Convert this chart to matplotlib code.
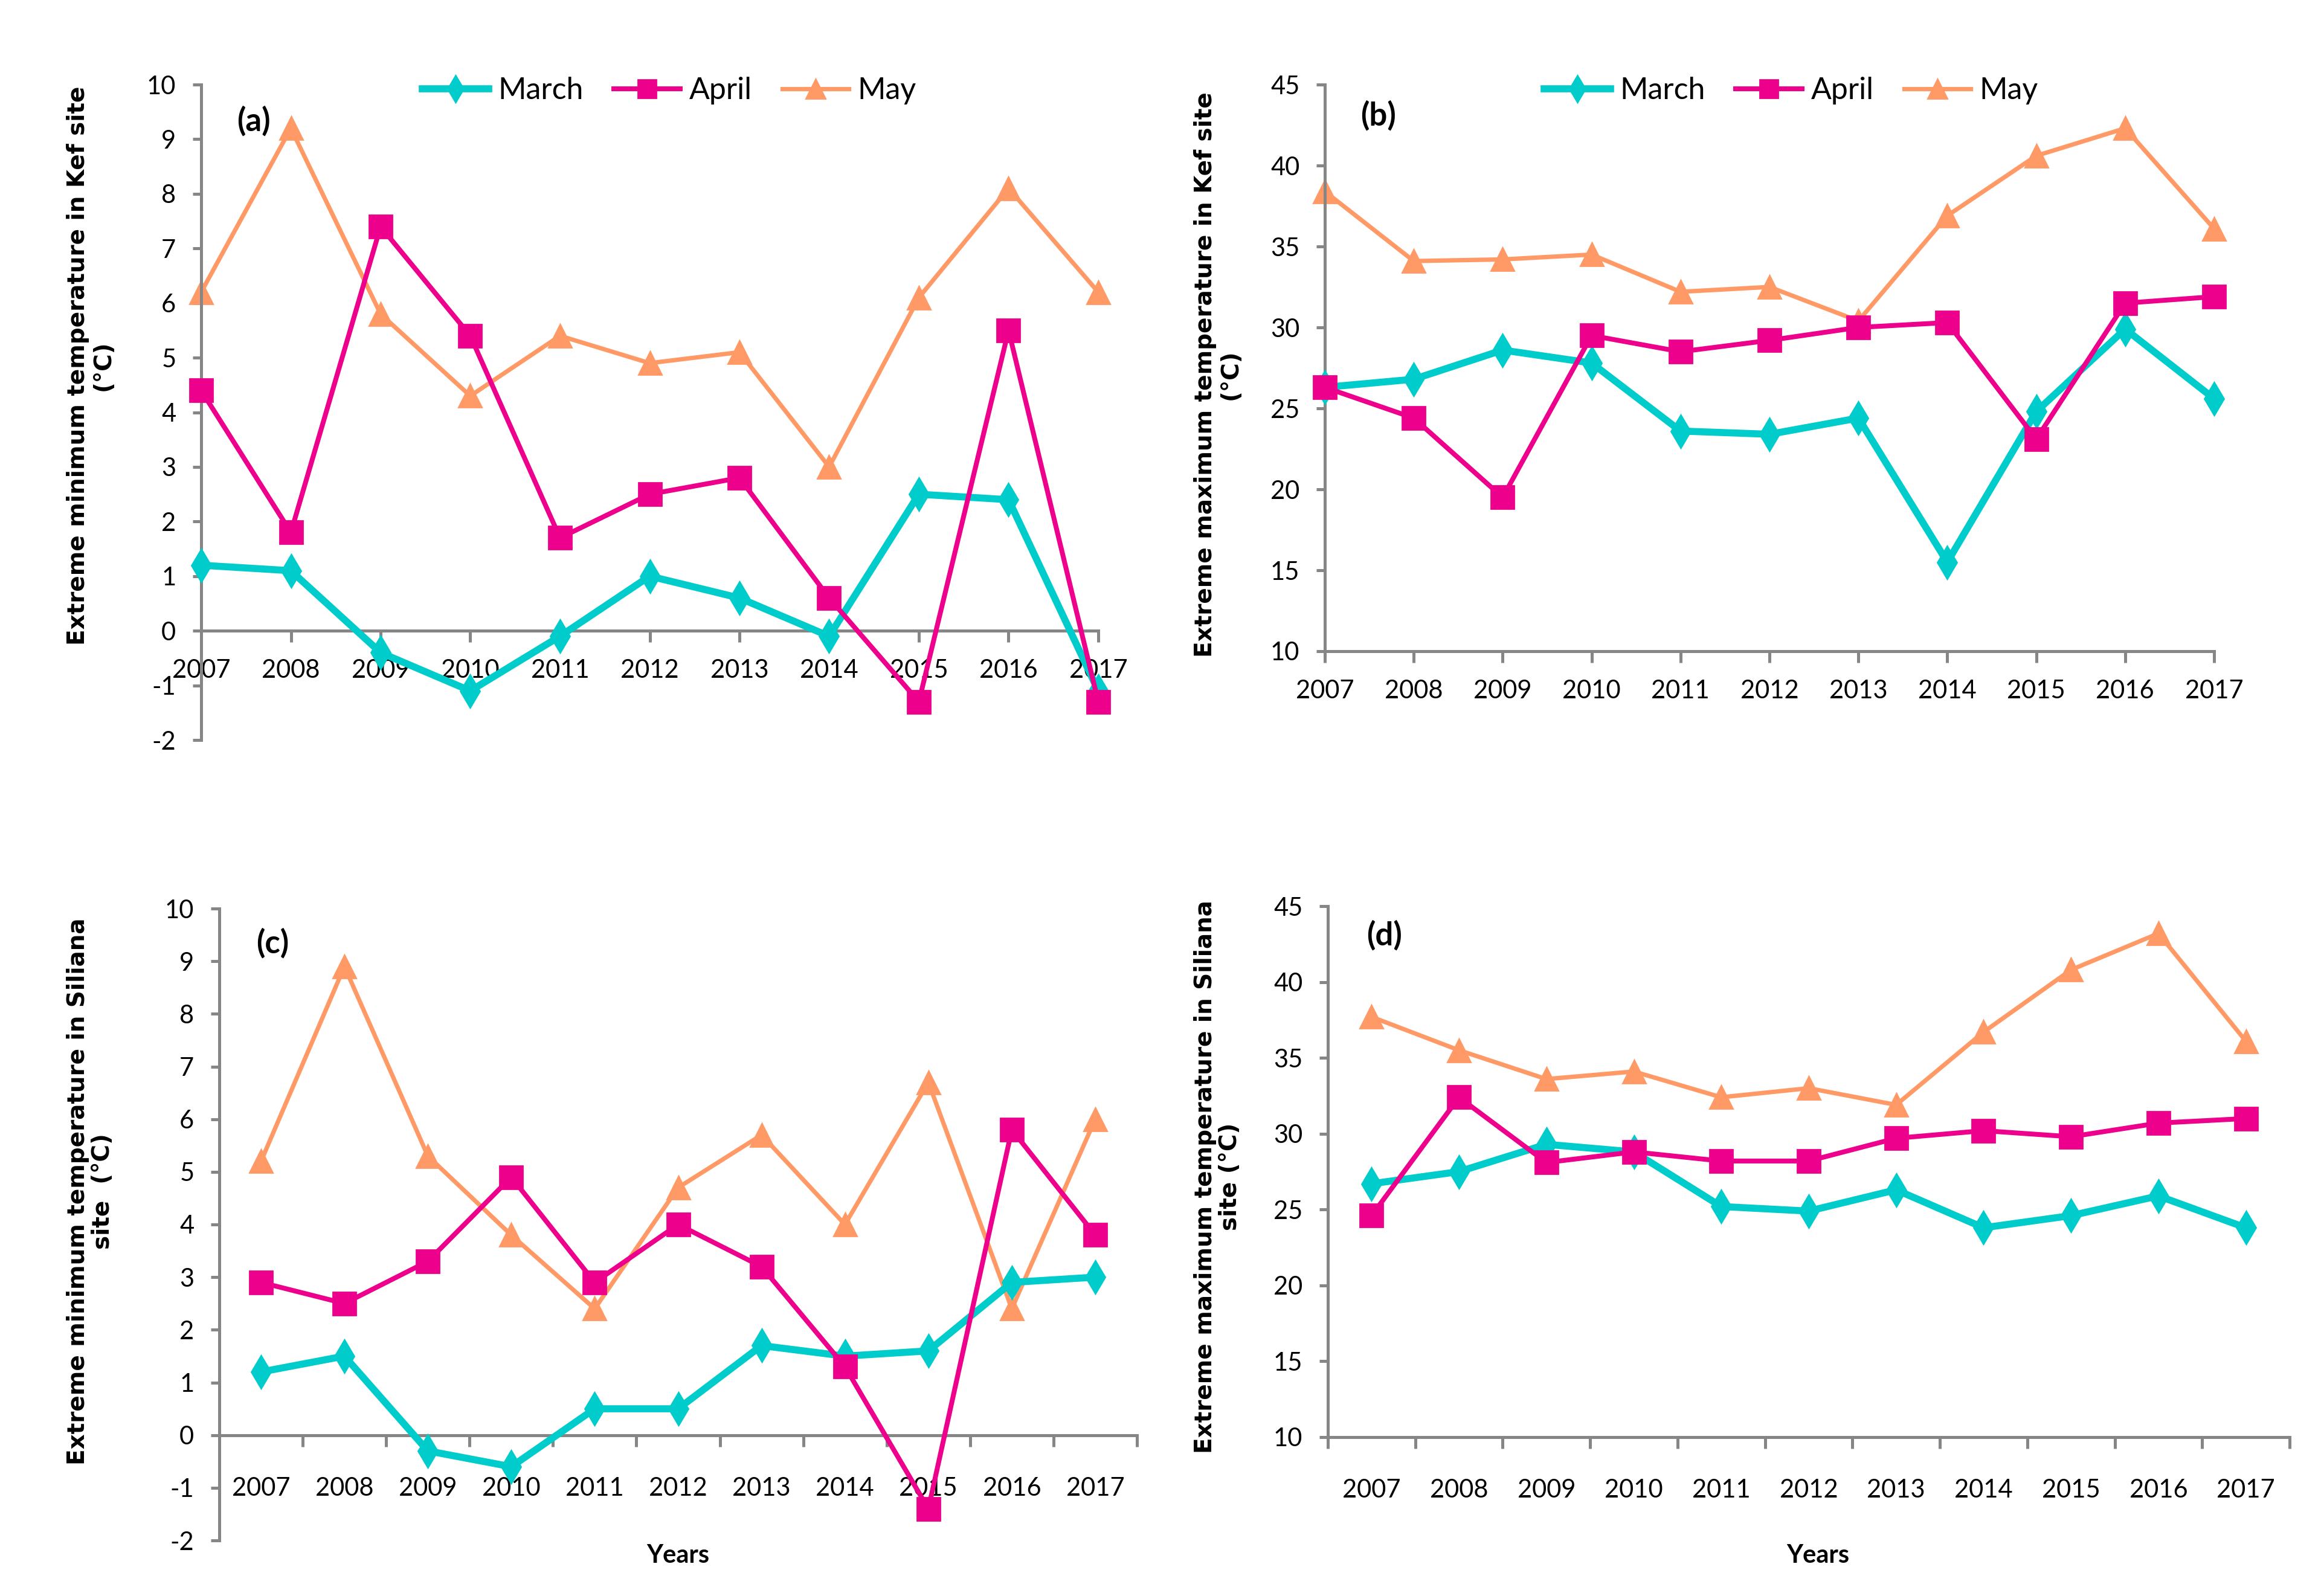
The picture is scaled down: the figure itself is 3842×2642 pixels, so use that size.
import numpy as np
import matplotlib
matplotlib.use('Agg')
import matplotlib.pyplot as plt
from matplotlib.ticker import FixedLocator

years = ['2007', '2008', '2009', '2010', '2011', '2012', '2013', '2014', '2015', '2016', '2017']
months = ['March', 'April', 'May']

# (a) Kef, extreme minimum
kef_min_march = [1.2, 1.1, -0.4, -1.1, -0.1, 1.0, 0.6, -0.1, 2.5, 2.4, -1.1]
kef_min_april = [4.4, 1.8, 7.4, 5.4, 1.7, 2.5, 2.8, 0.6, -1.3, 5.5, -1.3]
kef_min_may = [6.2, 9.2, 5.8, 4.3, 5.4, 4.9, 5.1, 3.0, 6.1, 8.1, 6.2]
# (b) Kef, extreme maximum
kef_max_march = [26.3, 26.8, 28.6, 27.8, 23.6, 23.4, 24.4, 15.5, 24.8, 29.9, 25.6]
kef_max_april = [26.3, 24.4, 19.5, 29.5, 28.5, 29.2, 30.0, 30.3, 23.1, 31.5, 31.9]
kef_max_may = [38.4, 34.1, 34.2, 34.5, 32.2, 32.5, 30.4, 36.9, 40.6, 42.3, 36.1]
# (c) Siliana, extreme minimum
sil_min_march = [1.2, 1.5, -0.3, -0.6, 0.5, 0.5, 1.7, 1.5, 1.6, 2.9, 3.0]
sil_min_april = [2.9, 2.5, 3.3, 4.9, 2.9, 4.0, 3.2, 1.3, -1.4, 5.8, 3.8]
sil_min_may = [5.2, 8.9, 5.3, 3.8, 2.4, 4.7, 5.7, 4.0, 6.7, 2.4, 6.0]
# (d) Siliana, extreme maximum
sil_max_march = [26.7, 27.5, 29.3, 28.8, 25.2, 24.9, 26.3, 23.8, 24.6, 25.9, 23.8]
sil_max_april = [24.6, 32.4, 28.1, 28.8, 28.2, 28.2, 29.7, 30.2, 29.8, 30.7, 31.0]
sil_max_may = [37.7, 35.5, 33.6, 34.1, 32.4, 33.0, 31.9, 36.7, 40.8, 43.2, 36.1]

c_march = '#00CCCC'
c_april = '#EC008C'
c_may = '#FF9966'
axcol = '#868686'
tfont = 'Lato'
plt.rcParams['axes.unicode_minus'] = False

W, H = 3842, 2642
fig = plt.figure(figsize=(W / 200, H / 200), dpi=200)


def box(l, r, t, b):
    return [l / W, 1 - b / H, (r - l) / W, (b - t) / H]


def panel(rect, march, april, may, ylim, ystep, between, tag, ylabel, ylab_xy, legend_x=None, years_xy=None):
    ax = fig.add_axes(rect)
    for s in ['top', 'right']:
        ax.spines[s].set_visible(False)
    if ylim[0] < 0:
        ax.spines['bottom'].set_position(('data', 0))
    for s in ['left', 'bottom']:
        ax.spines[s].set_color(axcol)
        ax.spines[s].set_linewidth(1.8)

    x = np.arange(len(years))
    ax.plot(x, march, color=c_march, lw=4.2, marker='d', ms=14, label='March', clip_on=False, zorder=3)
    ax.plot(x, april, color=c_april, lw=2.9, marker='s', ms=13.5, label='April', clip_on=False, zorder=4)
    ax.plot(x, may, color=c_may, lw=2.6, marker='^', ms=14, label='May', clip_on=False, zorder=2)
    ax.set_ylim(*ylim)
    ax.set_yticks(np.arange(ylim[0], ylim[1] + 0.1, ystep))
    if between:
        ax.set_xlim(-0.5, len(years) - 0.5)
        ax.xaxis.set_major_locator(FixedLocator(x))
        ax.xaxis.set_minor_locator(FixedLocator(np.arange(-0.5, len(years), 1.0)))
        ax.tick_params(axis='x', which='major', length=0, pad=25)
        ax.tick_params(axis='x', which='minor', length=7, width=1.8, color=axcol, direction='out')
    else:
        ax.set_xlim(0, len(years) - 1)
        ax.set_xticks(x)
        ax.tick_params(axis='x', which='major', length=7, width=1.8, color=axcol, pad=10)
    ax.set_xticklabels(years, fontfamily=tfont, fontsize=15)
    ax.tick_params(axis='y', length=5, width=1.8, color=axcol, pad=10, labelsize=15)
    for lab in ax.get_yticklabels():
        lab.set_fontfamily(tfont)
    ax.text(0.04, 0.945, tag, transform=ax.transAxes, fontfamily=tfont, fontweight='bold', fontsize=19, va='center', ha='left')
    fig.text(ylab_xy[0] / W, 1 - ylab_xy[1] / H, ylabel, rotation=90, ha='center', va='center',
             multialignment='center', fontfamily='DejaVu Sans', fontweight='bold', fontsize=14, linespacing=1.1)
    if legend_x is not None:
        fig.legend(*ax.get_legend_handles_labels(), loc='center', bbox_to_anchor=(legend_x / W, 1 - 150 / H),
                   ncol=3, frameon=False, prop={'family': tfont, 'size': 18}, handlelength=2.2,
                   columnspacing=1.0, handletextpad=0.3, markerscale=0.8)
    if years_xy is not None:
        fig.text(years_xy[0] / W, 1 - years_xy[1] / H, 'Years', ha='center', va='center',
                 fontfamily=tfont, fontweight='bold', fontsize=15)
    return ax


panel(box(333, 1818, 140, 1225), kef_min_march, kef_min_april, kef_min_may, (-2, 10), 1, False, '(a)',
      'Extreme minimum temperature in Kef site\n(°C)', (150, 605), legend_x=1108)
panel(box(2193, 3665, 140, 1078), kef_max_march, kef_max_april, kef_max_may, (10, 45), 5, False, '(b)',
      'Extreme maximum temperature in Kef site\n(°C)', (2016, 620), legend_x=2965)
panel(box(363, 1882, 1504, 2550), sil_min_march, sil_min_april, sil_min_may, (-2, 10), 1, True, '(c)',
      'Extreme minimum temperature in Siliana\nsite  (°C)', (150, 1972), years_xy=(1122, 2575))
panel(box(2198, 3790, 1500, 2379), sil_max_march, sil_max_april, sil_max_may, (10, 45), 5, True, '(d)',
      'Extreme maximum temperature in Siliana\nsite (°C)', (2016, 1948), years_xy=(3009, 2575))

fig.savefig('out.png', dpi=200, facecolor='white')
